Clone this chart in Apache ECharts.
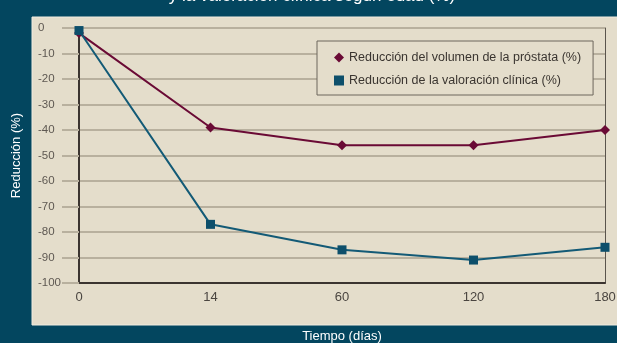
<!DOCTYPE html>
<html>
<head>
<meta charset="utf-8">
<script src="https://cdn.jsdelivr.net/npm/echarts@6/dist/echarts.min.js"></script>
<style>
  html, body { margin: 0; padding: 0; background: #03465f; }
  #chart { width: 617px; height: 343px; }
</style>
</head>
<body>
<div id="chart"></div>
<script>
// Días de seguimiento
const categories = ['0', '14', '60', '120', '180'];
// Reducción del volumen de la próstata (%)
const prostata = [-2, -39, -46, -46, -40];
// Reducción de la valoración clínica (%)
const clinica = [-1, -77, -87, -91, -86];

const nameProstata = 'Reducción del volumen de la próstata (%)';
const nameClinica = 'Reducción de la valoración clínica (%)';

const FONT = "'Liberation Sans', Arial, sans-serif";
const chart = echarts.init(document.getElementById('chart'));

chart.setOption({
  backgroundColor: '#03465f',
  animation: false,
  textStyle: { fontFamily: FONT },
  graphic: [
    {
      type: 'rect',
      z: -10,
      shape: { x: 32, y: 17, width: 590, height: 308 },
      style: { fill: '#e4ddcb', stroke: '#f1ece1', lineWidth: 1 }
    },
    {
      type: 'text',
      x: 312,
      y: -4,
      style: {
        text: 'y la valoración clínica según edad (%)',
        fill: '#ffffff',
        font: "17px 'Liberation Sans', Arial, sans-serif",
        align: 'center',
        verticalAlign: 'middle'
      }
    }
  ],
  grid: { left: 79, right: 12, top: 28, bottom: 60, outerBoundsMode: 'none', containLabel: false },
  legend: {
    left: 317,
    top: 41,
    orient: 'vertical',
    backgroundColor: '#e4ddcb',
    borderColor: '#6d665c',
    borderWidth: 1,
    padding: [10, 12, 8, 17],
    itemGap: 10,
    itemWidth: 10,
    itemHeight: 10,
    textStyle: { color: '#3a3530', fontSize: 12.5, fontFamily: FONT },
    data: [
      { name: nameProstata, icon: 'diamond' },
      { name: nameClinica, icon: 'rect' }
    ]
  },
  xAxis: {
    type: 'category',
    data: categories,
    boundaryGap: false,
    name: 'Tiempo (días)',
    nameLocation: 'middle',
    nameGap: 47,
    nameTextStyle: { color: '#ffffff', fontSize: 13, fontFamily: FONT },
    axisLine: { onZero: false, lineStyle: { color: '#3b3430', width: 2 } },
    axisTick: { show: false },
    axisLabel: { color: '#4a4540', fontSize: 13, margin: 8, fontFamily: FONT },
    splitLine: { show: false }
  },
  yAxis: [
    {
      type: 'value',
      min: -100,
      max: 0,
      interval: 10,
      name: 'Reducción (%)',
      nameLocation: 'middle',
      nameRotate: 90,
      nameGap: 56,
      nameTextStyle: { color: '#ffffff', fontSize: 13, fontFamily: FONT },
      axisLine: { show: true, lineStyle: { color: '#3b3430', width: 2 } },
      axisTick: { show: true, length: 17, lineStyle: { color: '#b8b09e', width: 2 } },
      axisLabel: { color: '#5e5852', fontSize: 11.5, align: 'left', margin: 41, fontFamily: FONT },
      splitLine: { show: true, lineStyle: { color: '#b8b09e', width: 2 } }
    },
    {
      type: 'value',
      min: -100,
      max: 0,
      interval: 10,
      position: 'right',
      axisLine: { show: true, lineStyle: { color: '#5a544c', width: 1 } },
      axisTick: { show: false },
      axisLabel: { show: false },
      splitLine: { show: false }
    }
  ],
  series: [
    {
      name: nameProstata,
      type: 'line',
      data: prostata,
      symbol: 'diamond',
      symbolSize: 10,
      color: '#6a0a35',
      lineStyle: { color: '#6a0a35', width: 2 },
      itemStyle: { color: '#6a0a35' },
      z: 3
    },
    {
      name: nameClinica,
      type: 'line',
      data: clinica,
      symbol: 'rect',
      symbolSize: 9,
      color: '#0d4f6b',
      lineStyle: { color: '#135a76', width: 2 },
      itemStyle: { color: '#0d4f6b' },
      z: 4
    }
  ]
});
</script>
</body>
</html>
